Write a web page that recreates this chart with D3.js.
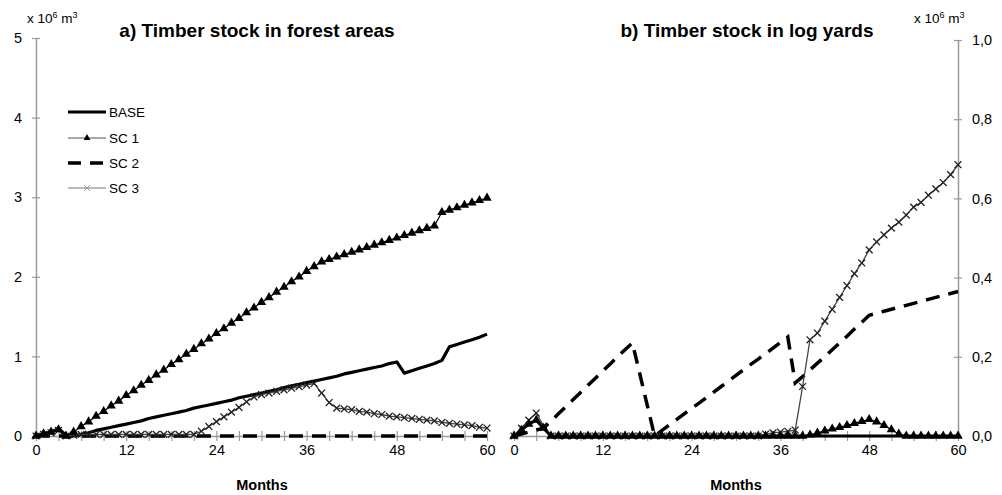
<!DOCTYPE html>
<html><head><meta charset="utf-8">
<script src="https://cdn.jsdelivr.net/npm/d3@7"></script>
<style>
body{margin:0;background:#fff}
text{font-family:"Liberation Sans",Arial,sans-serif;fill:#000}
</style>
</head><body>
<svg id="c" width="1002" height="495"></svg>
<script>
const months = [0,1,2,3,4,5,6,7,8,9,10,11,12,13,14,15,16,17,18,19,20,21,22,23,24,25,26,27,28,29,30,31,32,33,34,35,36,37,38,39,40,41,42,43,44,45,46,47,48,49,50,51,52,53,54,55,56,57,58,59,60];
const seriesNames = ["BASE","SC 1","SC 2","SC 3"];

// a) Timber stock in forest areas (x 10^6 m3)
const forestBase = [0,0.03,0.05,0.09,0.01,0,0.02,0.04,0.07,0.09,0.11,0.13,0.15,0.17,0.19,0.22,0.24,0.26,0.28,0.30,0.32,0.35,0.37,0.39,0.41,0.43,0.45,0.48,0.50,0.52,0.54,0.56,0.58,0.61,0.63,0.65,0.67,0.69,0.71,0.73,0.75,0.78,0.80,0.82,0.84,0.86,0.88,0.91,0.93,0.79,0.82,0.85,0.88,0.91,0.95,1.12,1.15,1.18,1.21,1.24,1.28];
const forestSC1 = [0,0.03,0.05,0.08,0,0.05,0.12,0.18,0.25,0.31,0.38,0.44,0.51,0.57,0.64,0.70,0.77,0.83,0.90,0.96,1.03,1.09,1.16,1.22,1.29,1.35,1.42,1.48,1.55,1.61,1.68,1.74,1.81,1.87,1.94,2.00,2.07,2.13,2.19,2.22,2.25,2.28,2.31,2.34,2.37,2.40,2.43,2.46,2.49,2.52,2.55,2.58,2.61,2.64,2.81,2.84,2.87,2.90,2.93,2.96,2.99];
const forestSC2 = [0,0,0,0,0,0,0,0,0,0,0,0,0,0,0,0,0,0,0,0,0,0,0,0,0,0,0,0,0,0,0,0,0,0,0,0,0,0,0,0,0,0,0,0,0,0,0,0,0,0,0,0,0,0,0,0,0,0,0,0,0];
const forestSC3 = [0,0.02,0.04,0.07,0,0.01,0.02,0.02,0.02,0.02,0.02,0.02,0.02,0.02,0.02,0.02,0.02,0.02,0.02,0.02,0.02,0.02,0.06,0.12,0.18,0.24,0.30,0.36,0.43,0.49,0.52,0.54,0.56,0.58,0.60,0.62,0.64,0.66,0.54,0.42,0.35,0.34,0.33,0.31,0.30,0.28,0.27,0.25,0.24,0.23,0.22,0.21,0.20,0.19,0.17,0.16,0.15,0.14,0.13,0.11,0.10];

// b) Timber stock in log yards (x 10^6 m3)
const yardBase = [0,0.015,0.03,0.04,0.02,0,0,0,0,0,0,0,0,0,0,0,0,0,0,0,0,0,0,0,0,0,0,0,0,0,0,0,0,0,0,0,0,0,0,0,0,0,0,0,0,0,0,0,0,0,0,0,0,0,0,0,0,0,0,0,0];
const yardSC1 = [0,0.015,0.03,0.04,0.02,0,0,0,0,0,0,0,0,0,0,0,0,0,0,0,0,0,0,0,0,0,0,0,0,0,0,0,0,0,0,0,0,0,0,0,0.003,0.008,0.013,0.018,0.022,0.027,0.032,0.037,0.042,0.036,0.027,0.016,0.005,0,0,0,0,0,0,0,0];
const yardSC2 = [0,0.005,0.01,0.015,0.02,0.038,0.056,0.074,0.092,0.11,0.128,0.146,0.164,0.182,0.20,0.218,0.235,0.157,0.078,0,0.014,0.028,0.042,0.056,0.07,0.083,0.097,0.111,0.125,0.139,0.153,0.167,0.181,0.194,0.208,0.222,0.236,0.25,0.134,0.15,0.167,0.184,0.20,0.218,0.235,0.252,0.27,0.287,0.305,0.31,0.315,0.32,0.325,0.33,0.335,0.34,0.345,0.35,0.355,0.36,0.365];
const yardSC3 = [0,0.02,0.04,0.058,0.025,0,0,0,0,0,0,0,0,0,0,0,0,0,0,0,0,0,0,0,0,0,0,0,0,0,0,0,0,0,0.005,0.008,0.01,0.012,0.015,0.125,0.243,0.26,0.29,0.32,0.35,0.38,0.41,0.437,0.47,0.49,0.508,0.525,0.54,0.558,0.578,0.59,0.608,0.624,0.64,0.66,0.685];

const xTickMarks = [0,3,6,9,12,15,18,21,24,27,30,33,36,39,42,45,48,51,54,57,60];
const xTickLabels = [0,12,24,36,48,60];
const forestYTicks = [0,1,2,3,4,5];
const yardYTicks = [0,0.2,0.4,0.6,0.8,1.0];

const svg = d3.select("#c");
const AX = "#9a9a9a";
const FONT = "Liberation Sans, Arial, sans-serif";

function drawPanel(o){
  const x = d3.scaleLinear().domain([0,60]).range(o.xr);
  const y = d3.scaleLinear().domain(o.yd).range([436, o.ytop]);
  const g = svg.append("g");

  const xa = g.append("g").attr("transform","translate(0,436)")
    .call(d3.axisBottom(x).tickValues(xTickMarks).tickSize(5).tickSizeOuter(0).tickFormat(""));
  xa.select(".domain").attr("stroke",AX).attr("stroke-width",1.5);
  xa.selectAll(".tick line").attr("stroke",AX).attr("stroke-width",1.2).attr("y1",-5);
  const xl = g.append("g").attr("transform","translate(0,436)")
    .call(d3.axisBottom(x).tickValues(xTickLabels).tickSize(0).tickPadding(9));
  xl.select(".domain").remove();
  xl.selectAll("text").attr("font-size",14.5).attr("font-family",FONT).attr("fill","#000");

  const yAxisGen = o.side==="left" ? d3.axisLeft(y) : d3.axisRight(y);
  const ya = g.append("g").attr("transform",`translate(${o.yAxisX},0)`)
    .call(yAxisGen.tickValues(o.yTicks).tickSize(4).tickSizeOuter(0).tickPadding(10)
      .tickFormat(o.fmt));
  ya.select(".domain").attr("stroke",AX).attr("stroke-width",1.5);
  ya.selectAll(".tick line").attr("stroke",AX).attr("stroke-width",1.2)
    .attr("x1", o.side==="left" ? 4 : -4);
  ya.selectAll("text").attr("font-size",14.5).attr("font-family",FONT).attr("fill","#000");

  const line = d3.line().x((d,i)=>x(months[i])).y(d=>y(d));

  g.append("path").attr("d",line(o.base)).attr("fill","none").attr("stroke","#000").attr("stroke-width",3.2).attr("stroke-linejoin","round");
  g.append("path").attr("d",line(o.sc2)).attr("fill","none").attr("stroke","#000").attr("stroke-width",3.5).attr("stroke-dasharray","14,9");
  g.append("path").attr("d",line(o.sc3)).attr("fill","none").attr("stroke","#444").attr("stroke-width",1.3);
  const tms = d3.symbol(d3.symbolTimes).size(32);
  g.append("g").selectAll("path").data(o.sc3).join("path")
    .attr("transform",(d,i)=>`translate(${x(months[i])},${y(d)})`)
    .attr("d",tms).attr("fill","none").attr("stroke","#222").attr("stroke-width",1.3);
  g.append("path").attr("d",line(o.sc1)).attr("fill","none").attr("stroke","#000").attr("stroke-width",1.2);
  const sym = d3.symbol(d3.symbolTriangle).size(38);
  g.append("g").selectAll("path").data(o.sc1).join("path")
    .attr("transform",(d,i)=>`translate(${x(months[i])},${y(d)})`)
    .attr("d",sym).attr("fill","#000");

  g.append("text").attr("x",o.titleX).attr("y",37).attr("text-anchor","middle")
    .attr("font-size",19).attr("font-weight","bold").text(o.title);
  g.append("text").attr("x",o.xLabelX).attr("y",490).attr("text-anchor","middle")
    .attr("font-size",14.5).attr("font-weight","bold").text("Months");
  const u = g.append("text").attr("x",o.unitX).attr("y",23).attr("font-size",13.5);
  u.append("tspan").text("x 10");
  u.append("tspan").attr("font-size",9).attr("dy",-5).text("6");
  u.append("tspan").attr("dy",5).text(" m");
  u.append("tspan").attr("font-size",9).attr("dy",-5).text("3");
}

drawPanel({xr:[36,487], yd:[0,5], ytop:38, side:"left", yAxisX:36, yTicks:forestYTicks,
  fmt:d=>d3.format("d")(d), base:forestBase, sc1:forestSC1, sc2:forestSC2, sc3:forestSC3,
  title:"a) Timber stock in forest areas", titleX:257, xLabelX:262, unitX:27});
drawPanel({xr:[514,958], yd:[0,1], ytop:40, side:"right", yAxisX:958, yTicks:yardYTicks,
  fmt:d=>d3.format(".1f")(d).replace(".",","), base:yardBase, sc1:yardSC1, sc2:yardSC2, sc3:yardSC3,
  title:"b) Timber stock in log yards", titleX:747, xLabelX:736, unitX:914});

const lg = svg.append("g");
const legY = [112,138,163,188];
seriesNames.forEach((n,i)=>{
  const yy = legY[i];
  if(i===0){
    lg.append("line").attr("x1",68).attr("x2",106).attr("y1",yy).attr("y2",yy).attr("stroke","#000").attr("stroke-width",3);
  } else if(i===1){
    lg.append("line").attr("x1",68).attr("x2",106).attr("y1",yy).attr("y2",yy).attr("stroke","#555").attr("stroke-width",1.2);
    lg.append("path").attr("transform",`translate(87,${yy})`).attr("d",d3.symbol(d3.symbolTriangle).size(20)).attr("fill","#000");
  } else if(i===2){
    lg.append("line").attr("x1",68).attr("x2",106).attr("y1",yy).attr("y2",yy).attr("stroke","#000").attr("stroke-width",3.5).attr("stroke-dasharray","13,9");
  } else {
    lg.append("line").attr("x1",68).attr("x2",106).attr("y1",yy).attr("y2",yy).attr("stroke","#777").attr("stroke-width",1.2);
    lg.append("path").attr("transform",`translate(87,${yy})`).attr("d",d3.symbol(d3.symbolTimes).size(20)).attr("fill","none").attr("stroke","#999").attr("stroke-width",1);
  }
  lg.append("text").attr("x",109).attr("y",yy+5).attr("font-size",13.5).text(n);
});
</script>
</body></html>
